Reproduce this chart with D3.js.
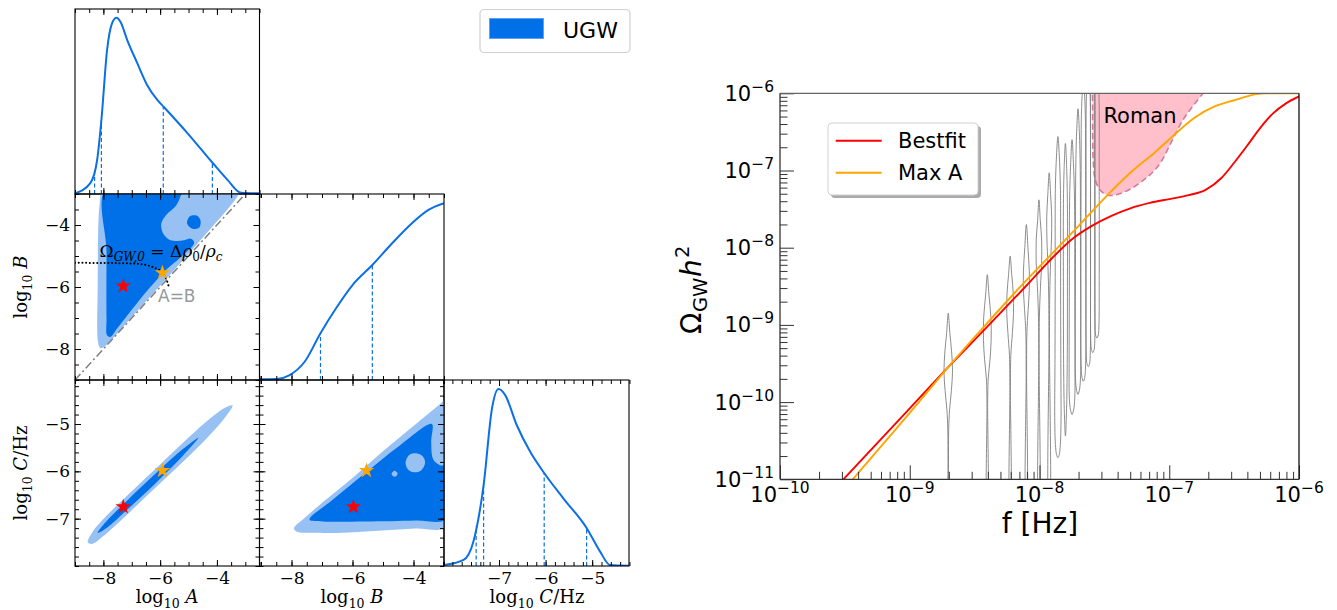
<!DOCTYPE html>
<html>
<head>
<meta charset="utf-8">
<script src="https://cdn.jsdelivr.net/npm/d3@7"></script>
<style>
  body { margin: 0; background: #fff; }
</style>
</head>
<body>
<svg id="fig" width="1337" height="610"></svg>
<script>
// ---------------- corner plot data ----------------
// 1D marginals: [value, density (peak = 1)]
var margA = [[-9.0,0.004],[-8.46,0.062],[-8.22,0.193],[-8.07,0.42],[-7.87,0.817],[-7.69,0.971],[-7.54,1.0],
  [-7.40,0.978],[-7.16,0.874],[-6.81,0.744],[-6.46,0.619],[-6.10,0.534],[-5.87,0.494],[-5.04,0.346],
  [-4.15,0.176],[-3.62,0.079],[-3.15,0.007],[-2.5,0.004]];
var margB = [[-9.05,0.004],[-8.49,0.006],[-8.06,0.028],[-7.57,0.103],[-7.05,0.264],[-6.54,0.405],[-6.0,0.536],
  [-5.35,0.649],[-4.70,0.772],[-4.05,0.885],[-3.51,0.960],[-3.0,0.998]];
var margC = [[-8.18,0.005],[-7.76,0.034],[-7.55,0.137],[-7.33,0.457],[-7.15,0.890],[-7.01,0.999],[-6.87,0.966],
  [-6.62,0.796],[-6.33,0.645],[-6.05,0.532],[-5.62,0.382],[-5.12,0.215],[-4.83,0.081],[-4.62,0.006],[-4.21,0.002]];
var quantA = [-8.31, -8.07, -5.89, -4.16];
var quantB = [-7.05, -5.35];
var quantC = [-7.49, -7.33, -6.03, -5.12];

// 2D credible regions, [x, y] in parameter units
var abLight = [[-8.11,-2.8],[-8.11,-3.04],[-8.17,-3.79],[-8.20,-5.95],[-8.19,-7.77],[-8.11,-7.97],[-7.96,-7.92],
  [-6.95,-6.92],[-5.85,-5.80],[-4.70,-4.62],[-3.25,-3.04],[-3.15,-2.8]];
var abDark = [[-7.89,-2.8],[-5.2,-2.8],[-5.27,-3.04],[-5.45,-3.39],[-5.78,-3.67],[-5.96,-3.96],[-5.89,-4.28],
  [-5.63,-4.49],[-5.16,-4.49],[-4.92,-4.44],[-4.80,-4.57],[-5.27,-5.03],[-5.75,-5.41],[-5.92,-5.57],
  [-6.45,-6.11],[-6.93,-6.65],[-7.52,-7.34],[-7.75,-7.61],[-7.87,-7.56],[-7.89,-7.02],[-7.89,-4.87]];
var abIsland = [[-5.05,-3.95],[-4.95,-3.72],[-4.70,-3.70],[-4.58,-3.85],[-4.62,-4.08],[-4.85,-4.12]];
var acLight = [[-8.55,-7.50],[-8.4,-7.295],[-8.0,-7.008],[-7.0,-6.421],[-6.0,-5.854],[-5.0,-5.287],[-4.2,-4.863],
  [-3.7,-4.65],[-3.45,-4.61],[-3.7,-4.85],[-4.2,-5.203],[-5.0,-5.687],[-6.0,-6.254],[-7.0,-6.821],[-8.0,-7.368],[-8.4,-7.535]];
var acDark = [[-8.2,-7.30],[-7.9,-7.062],[-7.0,-6.521],[-6.0,-5.954],[-5.2,-5.53],[-4.65,-5.29],
  [-5.2,-5.67],[-6.0,-6.154],[-7.0,-6.721],[-7.9,-7.202]];
var bcLight = [[-7.92,-7.20],[-7.60,-7.00],[-7.19,-6.77],[-6.11,-6.20],[-5.03,-5.59],[-3.94,-5.01],[-3.08,-4.55],
  [-2.9,-4.45],[-2.9,-7.15],[-3.94,-7.21],[-5.03,-7.25],[-6.11,-7.29],[-7.19,-7.30],[-7.84,-7.27]];
var bcDark = [[-7.41,-7.02],[-6.65,-6.60],[-5.57,-6.03],[-4.48,-5.47],[-3.40,-5.00],[-3.42,-5.37],[-3.35,-5.75],
  [-3.13,-5.87],[-2.9,-5.89],[-2.9,-7.0],[-3.94,-7.04],[-5.57,-7.06],[-6.97,-7.06]];
var bcHoles = [
  [[-4.26,-5.82],[-4.15,-5.66],[-3.94,-5.62],[-3.70,-5.68],[-3.62,-5.82],[-3.75,-5.98],[-3.98,-6.02],[-4.18,-5.96]],
  [[-4.72,-6.05],[-4.62,-5.985],[-4.52,-6.05],[-4.62,-6.115]]
];
// [log10 A, log10 B, log10 C]
var bestfitPt = [-7.30, -5.97, -6.75];
var maxAPt = [-5.92, -5.54, -5.985];
var omegaLine = [[-9.0,-5.22],[-7.5,-5.23],[-6.8,-5.25],[-6.45,-5.30],[-6.15,-5.40],[-5.92,-5.54],[-5.78,-5.75],[-5.69,-6.0]];
var equalLine = [[-9,-9],[-3,-3]];

var ticksA = [-8, -6, -4], ticksB = [-8, -6, -4], ticksC = [-7, -6, -5], ticksCy = [-7, -6, -5];

// ---------------- spectrum data: [log10 f, log10 Omega h^2] ----------------
var bestfitCurve = [[-9.55,-11.07],[-9.0,-10.08],[-8.7,-9.54],[-8.4,-9.02],[-8.1,-8.49],[-7.9,-8.13],[-7.75,-7.89],
  [-7.6,-7.72],[-7.45,-7.59],[-7.3,-7.49],[-7.15,-7.42],[-7.0,-7.37],[-6.85,-7.32],[-6.72,-7.25],[-6.6,-7.10],
  [-6.5,-6.90],[-6.4,-6.68],[-6.3,-6.45],[-6.2,-6.26],[-6.1,-6.13],[-6.0,-6.04]];
var maxACurve = [[-9.5,-11.12],[-9.2,-10.53],[-9.0,-10.14],[-8.7,-9.54],[-8.4,-8.97],[-8.1,-8.42],[-7.9,-8.07],
  [-7.7,-7.72],[-7.5,-7.36],[-7.3,-7.03],[-7.1,-6.75],[-6.95,-6.52],[-6.8,-6.31],[-6.65,-6.17],[-6.5,-6.09],
  [-6.4,-6.04],[-6.33,-6.01],[-6.25,-6.0],[-6.0,-6.0]];
var romanCurve = [[-7.59,-5.9],[-7.59,-6.6],[-7.585,-6.9],[-7.57,-7.12],[-7.53,-7.26],[-7.47,-7.32],[-7.40,-7.31],
  [-7.30,-7.24],[-7.18,-7.10],[-7.08,-6.93],[-6.98,-6.62],[-6.90,-6.36],[-6.82,-6.17],[-6.74,-6.0],[-6.70,-5.9]];
// PTA free-spectrum violins: frequency (Hz) and outline [log10 Omega, relative half width]
var violinF = [1.98e-9, 3.96e-9, 5.94e-9, 7.92e-9, 9.90e-9, 11.88e-9, 13.86e-9, 15.84e-9, 17.82e-9, 19.80e-9,
  21.78e-9, 23.76e-9, 25.74e-9, 27.72e-9];
var violinShape = [
  [[-8.85,0],[-9.1,0.35],[-9.35,0.75],[-9.6,0.95],[-9.85,0.7],[-10.1,0.3],[-10.35,0.1],[-10.8,0.05],[-11.5,0.05]],
  [[-8.35,0],[-8.6,0.35],[-8.9,0.8],[-9.2,0.85],[-9.45,0.6],[-9.7,0.2],[-10.0,0.08],[-11.5,0.05]],
  [[-8.11,0],[-8.35,0.35],[-8.6,0.7],[-8.85,0.75],[-9.1,0.5],[-9.4,0.15],[-9.8,0.06],[-11.5,0.05]],
  [[-7.70,0],[-8.0,0.35],[-8.3,0.65],[-8.55,0.65],[-8.8,0.4],[-9.1,0.12],[-9.6,0.05],[-11.5,0.05]],
  [[-7.38,0],[-7.65,0.3],[-7.9,0.6],[-8.2,0.6],[-8.5,0.35],[-8.9,0.1],[-9.5,0.05],[-11.5,0.05]],
  [[-7.03,0],[-7.3,0.3],[-7.6,0.55],[-7.9,0.5],[-8.2,0.3],[-8.6,0.12],[-9.2,0.06],[-11.5,0.05]],
  [[-6.56,0],[-6.8,0.3],[-7.2,0.55],[-7.6,0.6],[-8.5,0.6],[-9.5,0.65],[-10.2,0.7],[-10.55,0.55],[-10.68,0.3],[-10.72,0]],
  [[-6.65,0],[-7.0,0.3],[-7.5,0.45],[-8.5,0.45],[-9.5,0.4],[-10.1,0.25],[-10.44,0]],
  [[-6.60,0],[-6.9,0.3],[-7.4,0.55],[-8.5,0.6],[-9.5,0.65],[-9.95,0.6],[-10.1,0.35],[-10.16,0]],
  [[-6.20,0],[-6.5,0.3],[-7.0,0.5],[-8.0,0.55],[-9.3,0.6],[-9.7,0.55],[-9.85,0.3],[-9.90,0]],
  [[-5.8,0],[-6.2,0.4],[-7.0,0.5],[-8.5,0.55],[-9.5,0.5],[-9.68,0.3],[-9.73,0]],
  [[-5.6,0],[-6.0,0.4],[-7.0,0.5],[-8.5,0.5],[-9.35,0.45],[-9.5,0.3],[-9.54,0]],
  [[-5.5,0],[-6.0,0.45],[-7.0,0.5],[-8.5,0.5],[-9.2,0.45],[-9.32,0.3],[-9.36,0]],
  [[-5.4,0],[-6.0,0.45],[-7.0,0.5],[-8.5,0.5],[-9.0,0.45],[-9.13,0.3],[-9.17,0]]
];
var xTickExp = [-10, -9, -8, -7, -6];
var yTickExp = [-11, -10, -9, -8, -7, -6];

// ---------------- drawing ----------------
var svg = d3.select("#fig");
var defs = svg.append("defs");
var dark = "#0070e9", light = "#97c1f3", lineBlue = "#0b6fe6";
var serif = "DejaVu Serif", sans = "DejaVu Sans";

var colX = [75, 259.5, 444, 629], rowY = [9, 194, 380, 566];
var xA = d3.scaleLinear().domain([-9, -2.5]).range([colX[0], colX[1]]);
var xB = d3.scaleLinear().domain([-9.05, -3]).range([colX[1], colX[2]]);
var xC = d3.scaleLinear().domain([-8.18, -4.21]).range([colX[2], colX[3]]);
var yB = d3.scaleLinear().domain([-9, -3]).range([rowY[2], rowY[1]]);
var yC = d3.scaleLinear().domain([-8, -4.07]).range([rowY[3], rowY[2]]);
function dens(r) { return d3.scaleLinear().domain([0, 1.05]).range([rowY[r + 1], rowY[r]]); }

var minorHalf = function (lo, hi) { return d3.range(lo * 2, hi * 2 + 1).map(function (v) { return v / 2; }); };
var minorFifth = function (lo, hi) { return d3.range(lo * 5, hi * 5 + 1).map(function (v) { return v / 5; }); };

function panel(id, x, y) {
  var x0 = x.range()[0], x1 = x.range()[1], y0 = d3.min(y.range()), y1 = d3.max(y.range());
  defs.append("clipPath").attr("id", id).append("rect")
    .attr("x", x0).attr("y", y0).attr("width", x1 - x0).attr("height", y1 - y0);
  var g = svg.append("g");
  var inner = g.append("g").attr("clip-path", "url(#" + id + ")");
  return { g: g, inner: inner, x: x, y: y, x0: x0, x1: x1, y0: y0, y1: y1 };
}

function styleAxis(sel) {
  sel.select(".domain").remove();
  sel.attr("font-family", serif).attr("font-size", 17);
  sel.selectAll("line").attr("stroke", "#000");
  sel.selectAll("text").attr("fill", "#000");
}

function xTicks(p, major, minor, labels) {
  [[p.y1, d3.axisBottom, labels], [p.y0, d3.axisTop, false]].forEach(function (s) {
    p.g.append("g").attr("transform", "translate(0," + s[0] + ")")
      .call(s[1](p.x).tickValues(minor).tickSize(-4).tickFormat("")).call(styleAxis);
    p.g.append("g").attr("transform", "translate(0," + s[0] + ")")
      .call(s[1](p.x).tickValues(major).tickSize(-6).tickPadding(6).tickFormat(s[2] ? d3.format("d") : ""))
      .call(styleAxis);
  });
}
function yTicks(p, major, minor, labels) {
  [[p.x0, d3.axisLeft, labels], [p.x1, d3.axisRight, false]].forEach(function (s) {
    p.g.append("g").attr("transform", "translate(" + s[0] + ",0)")
      .call(s[1](p.y).tickValues(minor).tickSize(-4).tickFormat("")).call(styleAxis);
    p.g.append("g").attr("transform", "translate(" + s[0] + ",0)")
      .call(s[1](p.y).tickValues(major).tickSize(-6).tickPadding(5).tickFormat(s[2] ? d3.format("d") : ""))
      .call(styleAxis);
  });
}
function frame(p) {
  p.g.append("rect").attr("x", p.x0).attr("y", p.y0).attr("width", p.x1 - p.x0).attr("height", p.y1 - p.y0)
    .attr("fill", "none").attr("stroke", "#000").attr("stroke-width", 1.1);
}
function interp(data, v) {
  var xs = data.map(function (d) { return d[0]; }), ys = data.map(function (d) { return d[1]; });
  return d3.scaleLinear().domain(xs).range(ys)(v);
}

function marginal(id, x, r, data, quants, major, minor, labels) {
  var y = dens(r);
  var p = panel(id, x, y);
  p.inner.selectAll("line.q").data(quants).enter().append("line")
    .attr("x1", function (d) { return x(d); }).attr("x2", function (d) { return x(d); })
    .attr("y1", y(0)).attr("y2", function (d) { return y(interp(data, d)); })
    .attr("stroke", lineBlue).attr("stroke-width", 1.2).attr("stroke-dasharray", "4,2.5");
  p.inner.append("path").datum(data)
    .attr("d", d3.line().x(function (d) { return x(d[0]); }).y(function (d) { return y(d[1]); }).curve(d3.curveMonotoneX))
    .attr("fill", "none").attr("stroke", lineBlue).attr("stroke-width", 2);
  frame(p);
  xTicks(p, major, minor, labels);
  return p;
}

function region(p, pts, color) {
  p.inner.append("path").datum(pts)
    .attr("d", d3.line().x(function (d) { return p.x(d[0]); }).y(function (d) { return p.y(d[1]); })
      .curve(d3.curveCatmullRomClosed.alpha(0.5)))
    .attr("fill", color).attr("stroke", "none");
}
function star(p, px, py, color) {
  p.inner.append("path").attr("d", d3.symbol(d3.symbolStar, 75)())
    .attr("transform", "translate(" + p.x(px) + "," + p.y(py) + ")").attr("fill", color);
}

// marginals
marginal("cA", xA, 0, margA, quantA, ticksA, minorHalf(-9, -2.5), false);
marginal("cB", xB, 1, margB, quantB, ticksB, minorHalf(-9, -3), false);
marginal("cC", xC, 2, margC, quantC, ticksC, minorFifth(-8.2, -4.2), true);

// (A, B)
var pAB = panel("cAB", xA, yB);
region(pAB, abLight, light);
region(pAB, abDark, dark);
region(pAB, abIsland, dark);
pAB.inner.append("path").datum(equalLine)
  .attr("d", d3.line().x(function (d) { return xA(d[0]); }).y(function (d) { return yB(d[1]); }))
  .attr("stroke", "#7f7f7f").attr("stroke-width", 1.5).attr("stroke-dasharray", "8,3,2,3").attr("fill", "none");
pAB.inner.append("path").datum(omegaLine)
  .attr("d", d3.line().x(function (d) { return xA(d[0]); }).y(function (d) { return yB(d[1]); }).curve(d3.curveMonotoneX))
  .attr("stroke", "#000").attr("stroke-width", 2).attr("stroke-dasharray", "0.1,3.6")
  .attr("stroke-linecap", "round").attr("fill", "none");
star(pAB, bestfitPt[0], bestfitPt[1], "#ff0000");
star(pAB, maxAPt[0], maxAPt[1], "#ffa500");
var om = pAB.g.append("text").attr("x", 161).attr("y", 257).attr("text-anchor", "middle")
  .attr("font-family", serif).attr("font-size", 17).attr("fill", "#000");
om.append("tspan").text("Ω");
om.append("tspan").attr("font-size", 12).attr("font-style", "italic").attr("dy", 4).text("GW,0");
om.append("tspan").attr("dy", -4).text(" = Δ");
om.append("tspan").attr("font-style", "italic").text("ρ");
om.append("tspan").attr("font-size", 12).attr("dy", 4).text("0");
om.append("tspan").attr("dy", -4).text("/");
om.append("tspan").attr("font-style", "italic").text("ρ");
om.append("tspan").attr("font-size", 12).attr("font-style", "italic").attr("dy", 4).text("c");
pAB.g.append("text").attr("x", 158).attr("y", 302).attr("font-family", sans).attr("font-size", 17)
  .attr("fill", "#999").text("A=B");
frame(pAB);
xTicks(pAB, ticksA, minorHalf(-9, -2.5), false);
yTicks(pAB, ticksB, minorHalf(-9, -3), true);

// (A, C)
var pAC = panel("cAC", xA, yC);
region(pAC, acLight, light);
region(pAC, acDark, dark);
star(pAC, bestfitPt[0], bestfitPt[2], "#ff0000");
star(pAC, maxAPt[0], maxAPt[2], "#ffa500");
frame(pAC);
xTicks(pAC, ticksA, minorHalf(-9, -2.5), true);
yTicks(pAC, ticksCy, minorFifth(-8, -4.2), true);

// (B, C)
var pBC = panel("cBC", xB, yC);
region(pBC, bcLight, light);
region(pBC, bcDark, dark);
bcHoles.forEach(function (h) { region(pBC, h, light); });
star(pBC, bestfitPt[1], bestfitPt[2], "#ff0000");
star(pBC, maxAPt[1], maxAPt[2], "#ffa500");
frame(pBC);
xTicks(pBC, ticksB, minorHalf(-9, -3), true);
yTicks(pBC, ticksCy, minorFifth(-8, -4.2), false);

// corner axis labels
function logLabel(x, y, letter, unit, rot) {
  var g = svg.append("g").attr("transform", "translate(" + x + "," + y + ")" + (rot ? " rotate(-90)" : ""));
  var t = g.append("text").attr("font-family", serif).attr("font-size", 18).attr("fill", "#000")
    .attr("text-anchor", "middle");
  t.append("tspan").text("log");
  t.append("tspan").attr("font-size", 12.5).attr("dy", 5).text("10");
  t.append("tspan").attr("dy", -5).text(" ");
  t.append("tspan").attr("font-style", "italic").text(letter);
  if (unit) t.append("tspan").text(unit);
}
logLabel(167, 603, "A", "", false);
logLabel(352, 603, "B", "", false);
logLabel(537, 603, "C", "/Hz", false);
logLabel(27, 287, "B", "", true);
logLabel(27, 473, "C", "/Hz", true);

// UGW legend
svg.append("rect").attr("x", 480).attr("y", 9.5).attr("width", 150).attr("height", 43).attr("rx", 4)
  .attr("fill", "#fff").attr("stroke", "#d0d0d0").attr("stroke-width", 1.2);
svg.append("rect").attr("x", 489.5).attr("y", 18.5).attr("width", 54).attr("height", 20)
  .attr("fill", dark).attr("stroke", "#5da2f0").attr("stroke-width", 1);
svg.append("text").attr("x", 563).attr("y", 38).attr("font-family", sans).attr("font-size", 22)
  .attr("fill", "#000").text("UGW");

// ---------------- right: spectrum ----------------
var fx = d3.scaleLog().domain([1e-10, 1e-6]).range([780, 1299]);
var fy = d3.scaleLog().domain([1e-11, 1e-6]).range([479.3, 93.3]);
defs.append("clipPath").attr("id", "cSpec").append("rect")
  .attr("x", 780).attr("y", 93.3).attr("width", 519).attr("height", 386);
var spec = svg.append("g");
var sp = spec.append("g").attr("clip-path", "url(#cSpec)");
var lf = d3.line().x(function (d) { return fx(Math.pow(10, d[0])); }).y(function (d) { return fy(Math.pow(10, d[1])); });

sp.append("path").datum(romanCurve)
  .attr("d", d3.area().x(function (d) { return fx(Math.pow(10, d[0])); })
    .y0(function (d) { return fy(Math.pow(10, d[1])); }).y1(fy(1e-6) - 20).curve(d3.curveCatmullRom))
  .attr("fill", "#ffc0cb");
sp.append("path").datum(romanCurve).attr("d", lf.curve(d3.curveCatmullRom))
  .attr("fill", "none").attr("stroke", "#d4799b").attr("stroke-width", 1.6).attr("stroke-dasharray", "6,3.5");

var ws = d3.scaleLinear().domain([0, 1]).range([0, 4.5]);
violinF.forEach(function (f, i) {
  var cx = fx(f);
  var left = violinShape[i].map(function (d) { return [cx - ws(d[1]), fy(Math.pow(10, d[0]))]; });
  var right = violinShape[i].map(function (d) { return [cx + ws(d[1]), fy(Math.pow(10, d[0]))]; }).reverse();
  if (violinShape[i][violinShape[i].length - 1][1] === 0) right.shift();
  right.pop();
  sp.append("path").datum(left.concat(right))
    .attr("d", d3.line().curve(d3.curveCatmullRomClosed.alpha(0.5)))
    .attr("fill", "none").attr("stroke", "#808080").attr("stroke-width", 0.9);
});

sp.append("path").datum(bestfitCurve).attr("d", lf.curve(d3.curveMonotoneX))
  .attr("fill", "none").attr("stroke", "#ff0000").attr("stroke-width", 1.9);
sp.append("path").datum(maxACurve).attr("d", lf.curve(d3.curveMonotoneX))
  .attr("fill", "none").attr("stroke", "#ffa500").attr("stroke-width", 1.9);

spec.append("text").attr("x", 1140).attr("y", 123).attr("text-anchor", "middle")
  .attr("font-family", sans).attr("font-size", 21).attr("fill", "#000").text("Roman");

// ticks (inward), spines
function isMajor(t) { var l = Math.log10(t); return Math.abs(l - Math.round(l)) < 1e-6; }
var xMinor = fx.ticks().filter(function (t) { return !isMajor(t); });
var yMinor = fy.ticks().filter(function (t) { return !isMajor(t); });
function specAxis(sel) { sel.select(".domain").remove(); sel.selectAll("line").attr("stroke", "#333"); }
spec.append("g").attr("transform", "translate(0,479.3)")
  .call(d3.axisBottom(fx).tickValues(xMinor).tickSize(-7.5).tickFormat("")).call(specAxis);
spec.append("g").attr("transform", "translate(0,479.3)")
  .call(d3.axisBottom(fx).tickValues(xTickExp.map(function (e) { return Math.pow(10, e); })).tickSize(-14).tickFormat(""))
  .call(specAxis);
spec.append("g").attr("transform", "translate(780,0)")
  .call(d3.axisLeft(fy).tickValues(yMinor).tickSize(-7.5).tickFormat("")).call(specAxis);
spec.append("g").attr("transform", "translate(780,0)")
  .call(d3.axisLeft(fy).tickValues(yTickExp.map(function (e) { return Math.pow(10, e); })).tickSize(-14).tickFormat(""))
  .call(specAxis);
spec.append("line").attr("x1", 780).attr("x2", 1299).attr("y1", 93.3).attr("y2", 93.3).attr("stroke", "#666").attr("stroke-width", 1.3);
spec.append("line").attr("x1", 1299).attr("x2", 1299).attr("y1", 93.3).attr("y2", 479.3).attr("stroke", "#111").attr("stroke-width", 1.3);
spec.append("line").attr("x1", 780).attr("x2", 780).attr("y1", 93.3).attr("y2", 479.3).attr("stroke", "#333").attr("stroke-width", 1.3);
spec.append("line").attr("x1", 780).attr("x2", 1299).attr("y1", 479.3).attr("y2", 479.3).attr("stroke", "#333").attr("stroke-width", 1.3);

function powLabel(x, y, e, anchor) {
  var t = spec.append("text").attr("x", x).attr("y", y).attr("text-anchor", anchor)
    .attr("font-family", sans).attr("font-size", 21).attr("fill", "#000");
  t.append("tspan").text("10");
  t.append("tspan").attr("dy", -9).attr("font-size", 15.5).text("−" + Math.abs(e));
}
xTickExp.forEach(function (e) { powLabel(fx(Math.pow(10, e)), 502, e, "middle"); });
yTickExp.forEach(function (e) { powLabel(774, fy(Math.pow(10, e)) + 7.5, e, "end"); });

spec.append("text").attr("x", 1040).attr("y", 533).attr("text-anchor", "middle")
  .attr("font-family", sans).attr("font-size", 28).attr("fill", "#000").text("f [Hz]");
// y label: pieces placed along the rotated baseline
var yl = spec.append("g").attr("transform", "translate(701,334) rotate(-90)")
  .attr("font-family", sans).attr("fill", "#000");
yl.append("text").attr("x", 0).attr("y", 0).attr("font-size", 28).text("Ω");
yl.append("text").attr("x", 22).attr("y", 6).attr("font-size", 19.5).text("GW");
yl.append("text").attr("x", 57).attr("y", 0).attr("font-size", 28).attr("font-style", "italic").text("h");
yl.append("text").attr("x", 76).attr("y", -12).attr("font-size", 19.5).text("2");

// legend
var lg = spec.append("g");
lg.append("rect").attr("x", 831).attr("y", 126).attr("width", 150).attr("height", 72).attr("rx", 4).attr("fill", "#aaa");
lg.append("rect").attr("x", 828).attr("y", 123).attr("width", 150).attr("height", 72).attr("rx", 4)
  .attr("fill", "#fff").attr("stroke", "#d0d0d0").attr("stroke-width", 1);
[["Bestfit", "#ff0000", 140.8], ["Max A", "#ffa500", 172.8]].forEach(function (d) {
  lg.append("line").attr("x1", 835.7).attr("x2", 881.7).attr("y1", d[2]).attr("y2", d[2])
    .attr("stroke", d[1]).attr("stroke-width", 1.9);
  lg.append("text").attr("x", 898).attr("y", d[2] + 7.5).attr("font-family", sans).attr("font-size", 21)
    .attr("fill", "#000").text(d[0]);
});
</script>
</body>
</html>
